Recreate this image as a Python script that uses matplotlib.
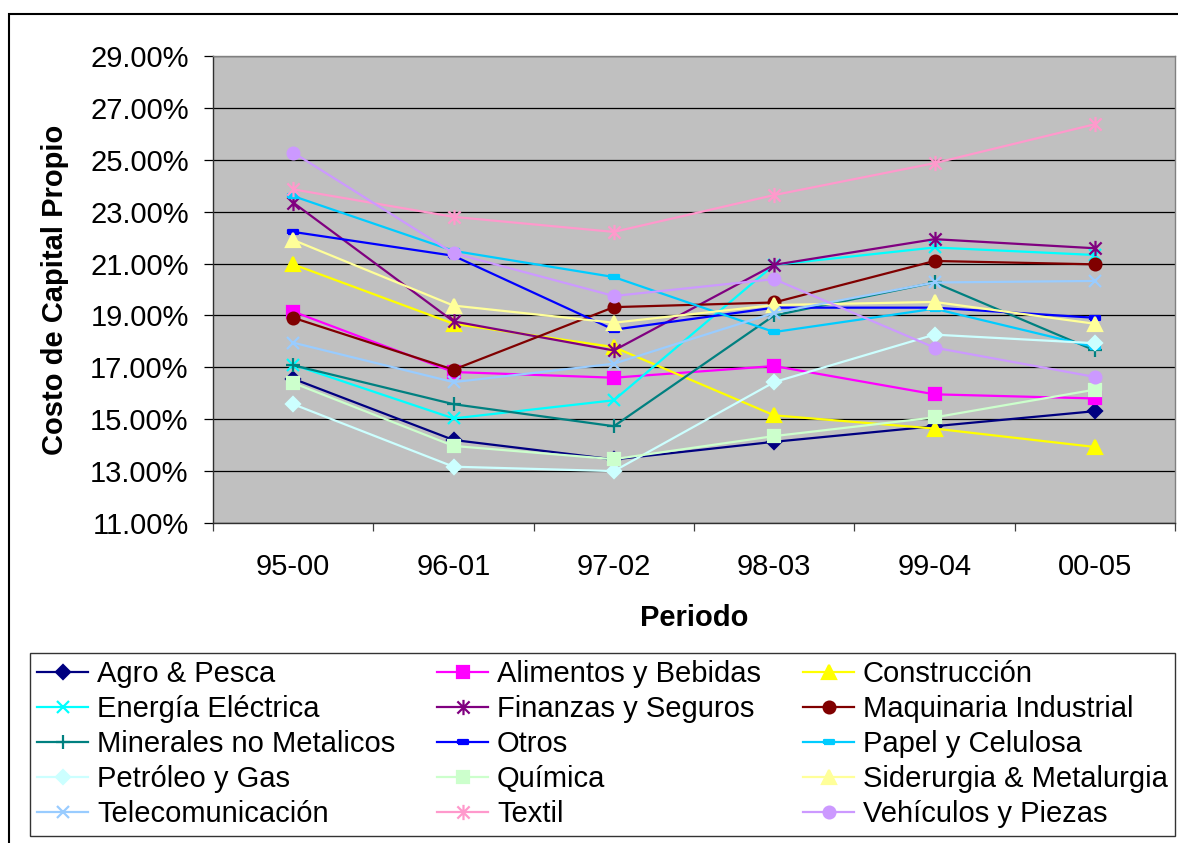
import matplotlib.pyplot as plt
from matplotlib.path import Path
from matplotlib.patches import Rectangle
from matplotlib.ticker import FuncFormatter

plt.rcParams['font.family'] = ['Liberation Sans', 'DejaVu Sans']

# Costo de capital propio por sector (%), ventanas móviles de 5 años
periodos = ["95-00", "96-01", "97-02", "98-03", "99-04", "00-05"]

agro = [16.56, 14.20, 13.45, 14.13, 14.73, 15.31]
alimentos = [19.15, 16.82, 16.60, 17.05, 15.96, 15.80]
construccion = [20.97, 18.68, 17.78, 15.15, 14.64, 13.93]
energia = [17.10, 15.03, 15.73, 20.95, 21.62, 21.33]
finanzas = [23.35, 18.77, 17.65, 20.95, 21.94, 21.59]
maquinaria = [18.91, 16.91, 19.32, 19.50, 21.10, 20.97]
minerales = [17.08, 15.58, 14.73, 19.00, 20.27, 17.65]
otros = [22.22, 21.30, 18.45, 19.30, 19.30, 18.91]
papel = [23.60, 21.49, 20.48, 18.36, 19.26, 17.78]
petroleo = [15.58, 13.17, 13.00, 16.43, 18.26, 17.93]
quimica = [16.40, 13.97, 13.46, 14.35, 15.07, 16.14]
siderurgia = [21.91, 19.38, 18.72, 19.40, 19.52, 18.68]
telecom = [17.95, 16.43, 17.14, 19.10, 20.27, 20.33]
textil = [23.86, 22.80, 22.22, 23.64, 24.87, 26.37]
vehiculos = [25.28, 21.40, 19.75, 20.40, 17.76, 16.63]

sectores = ["Agro & Pesca", "Alimentos y Bebidas", "Construcción",
            "Energía Eléctrica", "Finanzas y Seguros", "Maquinaria Industrial",
            "Minerales no Metalicos", "Otros", "Papel y Celulosa",
            "Petróleo y Gas", "Química", "Siderurgia & Metalurgia",
            "Telecomunicación", "Textil", "Vehículos y Piezas"]
series = [agro, alimentos, construccion, energia, finanzas, maquinaria,
          minerales, otros, papel, petroleo, quimica, siderurgia,
          telecom, textil, vehiculos]

# marcadores tipo Excel: asterisco (x + vertical) y guion corto
estrella = Path([(0, -1), (0, 1), (-0.8, -0.8), (0.8, 0.8), (-0.8, 0.8), (0.8, -0.8)],
                [Path.MOVETO, Path.LINETO, Path.MOVETO, Path.LINETO, Path.MOVETO, Path.LINETO])
guion = [(-1, -0.4), (1, -0.4), (1, 0.4), (-1, 0.4), (-1, -0.4)]

estilos = [
    ("#000080", "D", 7.5),
    ("#FF00FF", "s", 8),
    ("#FFFF00", "^", 10),
    ("#00FFFF", "x", 8.5),
    ("#800080", estrella, 11),
    ("#800000", "o", 8.5),
    ("#008080", "+", 10),
    ("#0000FF", guion, 7.5),
    ("#00CCFF", guion, 7.5),
    ("#CCFFFF", "D", 7.5),
    ("#CCFFCC", "s", 8),
    ("#FFFF99", "^", 10),
    ("#99CCFF", "x", 8.5),
    ("#FF99CC", estrella, 11),
    ("#CC99FF", "o", 8.5),
]

W, H = 1178, 843
fig = plt.figure(figsize=(W / 100, H / 100), dpi=100)
ax = fig.add_axes([213 / W, 1 - 523 / H, 962 / W, 467 / H])

x = range(len(periodos))
for nombre, valores, (color, marker, ms) in zip(sectores, series, estilos):
    ax.plot(x, valores, color=color, lw=1.6, marker=marker, ms=ms,
            mfc=color, mec=color, mew=1.6, label=nombre)

ax.set_xlim(-0.5, 5.5)
ax.set_ylim(11, 29)
ax.set_facecolor("#C0C0C0")
ax.set_yticks(range(11, 30, 2))
ax.yaxis.set_major_formatter(FuncFormatter(lambda v, p: f"{v:.2f}%"))
ax.grid(axis="y", color="black", lw=0.9)
ax.set_axisbelow(True)
ax.tick_params(axis="y", length=6.5, width=0.9, pad=11, labelsize=21)

ax.set_xticks(list(x))
ax.set_xticklabels(periodos)
ax.set_xticks([i - 0.5 for i in range(len(periodos) + 1)], minor=True)
ax.tick_params(axis="x", which="major", length=0, pad=21.5, labelsize=21)
ax.tick_params(axis="x", which="minor", length=6, width=0.9, color="#404040")

for lado in ("left", "bottom"):
    ax.spines[lado].set_color("#303030")
    ax.spines[lado].set_linewidth(1.0)
for lado in ("top", "right"):
    ax.spines[lado].set_color("#808080")
    ax.spines[lado].set_linewidth(1.0)

fig.text(55 / W, 1 - 290 / H, "Costo de Capital Propio", rotation=90,
         ha="center", va="center", fontsize=21, fontweight="bold")
fig.text(694 / W, 1 - 618 / H, "Periodo", ha="center", va="center",
         fontsize=21, fontweight="bold")

# leyenda en filas de tres, ocupando todo el ancho del gráfico
handles, labels = ax.get_legend_handles_labels()
orden = [i for c in range(3) for i in range(c, len(handles), 3)]
leg = fig.legend([handles[i] for i in orden], [labels[i] for i in orden],
                 loc="upper left",
                 bbox_to_anchor=(30 / W, 0, 1145 / W, 1 - 653 / H),
                 mode="expand", ncol=3, fontsize=21, frameon=True,
                 fancybox=False, edgecolor="black", handlelength=1.75,
                 handletextpad=0.3, columnspacing=1.3, labelspacing=0.24,
                 borderpad=0.25, borderaxespad=0)
leg.get_frame().set_linewidth(1.0)

# marco exterior del gráfico
fig.patches.append(Rectangle((9 / W, -0.1), 1.2, 1.1 - 14 / H,
                             transform=fig.transFigure, fill=False,
                             edgecolor="black", lw=1.5))

fig.savefig("out.png", dpi=100)
